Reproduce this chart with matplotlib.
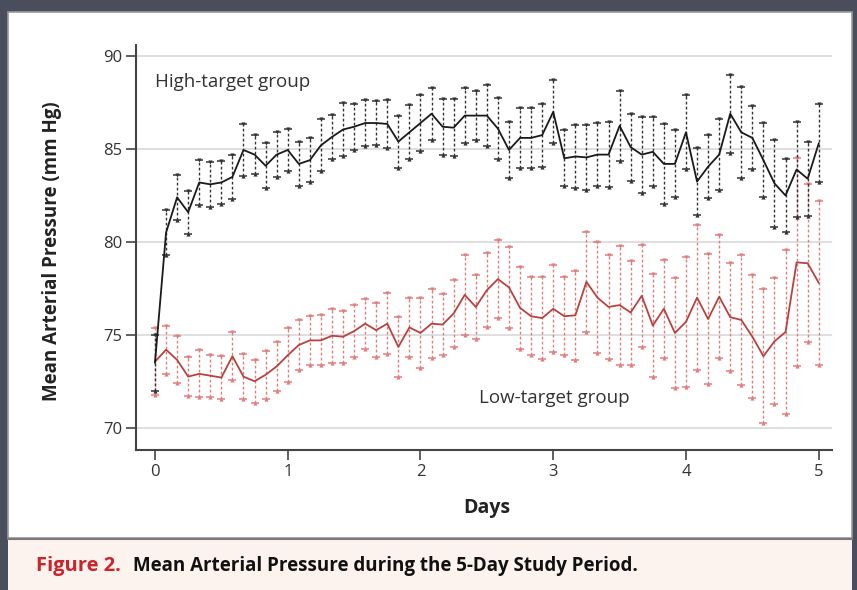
import numpy as np
import matplotlib
matplotlib.use("Agg")
import matplotlib.pyplot as plt
from matplotlib.patches import Rectangle
from matplotlib.lines import Line2D

plt.rcParams['font.family'] = ['Open Sans', 'DejaVu Sans']

# time points every 2 hours over 5 days
hours = list(range(0, 121, 2))

high_mean = [73.5, 80.5, 82.4, 81.6, 83.2, 83.1, 83.2, 83.5, 84.95, 84.7,
             84.1, 84.7, 84.95, 84.2, 84.4, 85.2, 85.65, 86.05, 86.2, 86.4,
             86.4, 86.35, 85.4, 85.9, 86.4, 86.9, 86.2, 86.15, 86.8, 86.8,
             86.8, 86.1, 84.95, 85.6, 85.6, 85.75, 87.0, 84.5, 84.6, 84.55,
             84.7, 84.7, 86.25, 85.1, 84.7, 84.85, 84.2, 84.2, 85.9, 83.25,
             84.05, 84.7, 86.9, 85.9, 85.6, 84.4, 83.15, 82.5, 83.9, 83.4,
             85.3]
high_err = [1.5, 1.2, 1.2, 1.15, 1.2, 1.2, 1.15, 1.2, 1.4, 1.05,
            1.2, 1.2, 1.15, 1.2, 1.2, 1.4, 1.2, 1.45, 1.25, 1.25,
            1.2, 1.3, 1.4, 1.45, 1.5, 1.4, 1.5, 1.55, 1.5, 1.3,
            1.65, 1.65, 1.5, 1.6, 1.6, 1.7, 1.7, 1.5, 1.7, 1.75,
            1.7, 1.75, 1.9, 1.8, 2.05, 1.85, 2.15, 1.8, 2.0, 1.8,
            1.7, 1.9, 2.1, 2.45, 1.7, 2.0, 2.35, 1.95, 2.55, 2.0,
            2.1]

low_mean = [73.55, 74.2, 73.65, 72.75, 72.9, 72.8, 72.7, 73.85, 72.75, 72.5,
            72.85, 73.3, 73.9, 74.45, 74.7, 74.7, 74.95, 74.9, 75.2, 75.6,
            75.25, 75.6, 74.35, 75.4, 75.1, 75.6, 75.55, 76.15, 77.15, 76.5,
            77.4, 78.0, 77.55, 76.45, 76.0, 75.9, 76.4, 76.0, 76.05, 77.85,
            77.0, 76.5, 76.6, 76.2, 77.1, 75.5, 76.4, 75.1, 75.7, 77.0,
            75.85, 77.05, 75.95, 75.8, 74.9, 73.85, 74.65, 75.15, 78.9, 78.85,
            77.8]
low_err = [1.8, 1.3, 1.27, 1.05, 1.27, 1.14, 1.15, 1.3, 1.2, 1.17,
           1.3, 1.33, 1.45, 1.35, 1.3, 1.35, 1.45, 1.4, 1.4, 1.35,
           1.45, 1.65, 1.6, 1.6, 1.9, 1.85, 1.65, 1.8, 2.15, 1.7,
           2.0, 2.1, 2.2, 2.2, 2.1, 2.2, 2.35, 2.1, 2.4, 2.7,
           3.0, 2.8, 3.2, 2.8, 2.75, 2.75, 2.65, 2.95, 3.5, 3.9,
           3.5, 3.3, 2.9, 3.5, 3.3, 3.6, 3.4, 4.4, 5.6, 4.25,
           4.4]

x_ticks = [0, 1, 2, 3, 4, 5]
y_ticks = [70, 75, 80, 85, 90]

W, H = 857, 590
fig = plt.figure(figsize=(W / 100, H / 100), dpi=100)
fig.patch.set_facecolor('#4a4d5c')

# white panel and caption band
fig.add_artist(Rectangle((8 / W, 1 - 538 / H), 844 / W, 526 / H,
                         transform=fig.transFigure, facecolor='white',
                         edgecolor='#9a9a9a', lw=1.2, zorder=0))
fig.add_artist(Rectangle((8 / W, 0), 844 / W, 1 - 540 / H,
                         transform=fig.transFigure, facecolor='#fcf2ee',
                         edgecolor='none', zorder=0))
fig.add_artist(Line2D([8 / W, 852 / W], [1 - 539 / H, 1 - 539 / H],
                      transform=fig.transFigure, color='#7a7a7a', lw=1.5))

ax = fig.add_axes([136 / W, 1 - 450 / H, (832 - 136) / W, (450 - 45) / H])
ax.set_facecolor('none')

days = np.array(hours) / 24.0


def draw(mean, err, line_c, err_c, z):
    mean = np.array(mean)
    err = np.array(err)
    cont = ax.errorbar(days, mean, yerr=err, fmt='-', color=line_c, lw=1.3,
                       ecolor=err_c, elinewidth=1.0, capsize=3.2, capthick=1.1,
                       zorder=z)
    for bc in cont[2]:
        bc.set_linestyle((0, (2.0, 1.6)))
    ax.plot(days, mean + err, 'v', ms=3, color=err_c, zorder=z, mec='none')
    ax.plot(days, mean - err, '^', ms=3, color=err_c, zorder=z, mec='none')


draw(low_mean, low_err, '#b8423f', '#e07d7d', 3)
draw(high_mean, high_err, '#1a1a1a', '#333333', 4)

ax.set_xlim(-0.143, 5.1)
ax.set_ylim(68.8, 90.6)
ax.set_xticks(x_ticks)
ax.set_yticks(y_ticks)
ax.grid(axis='y', color='#dcdcdc', lw=1.3, zorder=0)
ax.set_axisbelow(True)
for s in ['top', 'right']:
    ax.spines[s].set_visible(False)
for s in ['left', 'bottom']:
    ax.spines[s].set_color('#444444')
    ax.spines[s].set_linewidth(1.5)
ax.tick_params(axis='both', colors='#444444', length=7, width=1.2,
               labelsize=12, labelcolor='#333333')
ax.tick_params(axis='y', pad=3)
ax.tick_params(axis='x', pad=3)

ax.text(0.0, 88.6, 'High-target group', fontsize=13.5, color='#333333',
        ha='left', va='center')
ax.text(2.44, 71.6, 'Low-target group', fontsize=13.5, color='#333333',
        ha='left', va='center')

ax.set_xlabel('Days', fontsize=14, fontweight='bold', color='#222222')
ax.xaxis.set_label_coords((487 - 136) / (832 - 136), -(498 - 450) / (450 - 45))
ax.set_ylabel('Mean Arterial Pressure (mm Hg)', fontsize=13.5, fontweight='bold',
              color='#222222')
ax.yaxis.set_label_coords(-(136 - 62) / (832 - 136), (450 - 251) / (450 - 45))

fig.text(36 / W, 1 - 566 / H, 'Figure 2.', color='#c8262c', fontsize=14.5,
         fontweight='bold', va='center', ha='left')
fig.text(133 / W, 1 - 566 / H, 'Mean Arterial Pressure during the 5-Day Study Period.',
         color='#111111', fontsize=13.5, fontweight='bold', va='center', ha='left')

fig.savefig('out.png', dpi=100, facecolor=fig.get_facecolor())
